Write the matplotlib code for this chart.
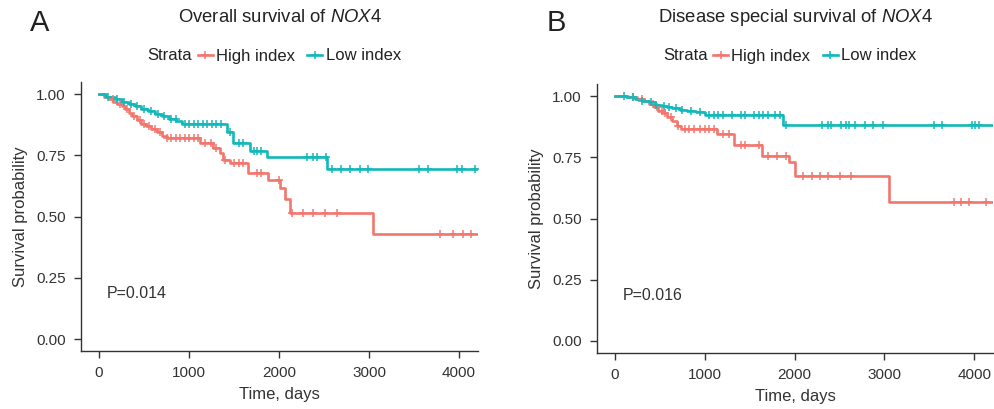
import numpy as np
import matplotlib
matplotlib.use('Agg')
import matplotlib.pyplot as plt
from matplotlib.lines import Line2D

plt.rcParams['font.family'] = ['Liberation Sans', 'DejaVu Sans']
plt.rcParams['mathtext.fontset'] = 'custom'
plt.rcParams['mathtext.rm'] = 'Liberation Sans'
plt.rcParams['mathtext.it'] = 'Liberation Sans:italic'

RED = '#F3766E'
TEAL = '#12B8BA'

# panel A: overall survival
os_high_t = [0, 60, 110, 160, 200, 250, 290, 330, 370, 420, 470, 520, 580, 640, 700, 750,
             1122, 1267, 1344, 1378, 1456, 1656, 1878, 2011, 2067, 2122, 3044]
os_high_s = [1.0, .99, .98, .97, .96, .95, .94, .925, .91, .895, .88, .87, .86, .845, .83, .82,
             .80, .78, .76, .73, .718, .68, .65, .616, .57, .514, .43]
os_high_cens = [150, 230, 310, 390, 450, 500, 560, 620, 680, 760, 800, 850, 900, 950, 1000,
                1050, 1100, 1180, 1240, 1300, 1400, 1500, 1560, 1600, 1750, 1800, 2000,
                2140, 2267, 2378, 2511, 2644, 3789, 3933, 4044, 4133]

os_low_t = [0, 80, 180, 260, 330, 400, 470, 540, 620, 700, 780, 860, 920, 1420, 1490, 1680, 1870, 2530]
os_low_s = [1.0, .99, .98, .97, .96, .95, .94, .93, .92, .91, .90, .89, .878, .845, .80, .77, .743, .694]
os_low_cens = [100, 200, 280, 350, 420, 500, 580, 650, 720, 800, 850, 950, 1000, 1050, 1100,
               1150, 1200, 1250, 1300, 1350, 1450, 1550, 1600, 1720, 1760, 1800, 2311, 2378,
               2422, 2522, 2589, 2689, 2789, 2900, 2989, 3556, 3656, 3978, 4033, 4178]

# panel B: disease special survival
dss_high_t = [0, 150, 250, 320, 380, 430, 480, 530, 580, 640, 690, 730, 1140, 1330, 1640, 1940, 2000, 3056]
dss_high_s = [1.0, .995, .99, .98, .97, .955, .94, .93, .915, .90, .88, .865, .845, .80, .757, .73, .675, .568]
dss_high_cens = [200, 300, 420, 470, 520, 560, 620, 700, 780, 830, 880, 950, 1000, 1050, 1100,
                 1200, 1270, 1400, 1450, 1600, 1700, 1800, 1900, 2089, 2190, 2278, 2378, 2511,
                 2633, 3778, 3856, 3944, 4133]

dss_low_t = [0, 120, 220, 300, 380, 450, 520, 580, 640, 720, 800, 900, 1000, 1870]
dss_low_s = [1.0, .995, .99, .98, .975, .965, .96, .955, .95, .945, .94, .935, .925, .882]
dss_low_cens = [100, 200, 300, 400, 460, 550, 600, 680, 750, 850, 950, 1050, 1100, 1150, 1200,
                1300, 1400, 1450, 1550, 1600, 1650, 1700, 1780, 1840, 1900, 2311, 2367, 2411,
                2522, 2578, 2611, 2678, 2789, 2878, 2989, 3556, 3644, 3978, 4011, 4056]

titles = [r'Overall survival of $\it{NOX4}$', r'Disease special survival of $\it{NOX4}$']
pvals = ['P=0.014', 'P=0.016']
letters = ['A', 'B']
xticks = [0, 1000, 2000, 3000, 4000]
yticks = [0, 0.25, 0.5, 0.75, 1.0]

W, H = 994, 409


def km(ax, t, s, cens, color):
    t = np.array(t, dtype=float)
    s = np.array(s)
    tt = np.append(t, 4210)
    ss = np.append(s, s[-1])
    ax.step(tt, ss, where='post', color=color, lw=1.9, zorder=3)
    c = np.array(cens, dtype=float)
    idx = np.searchsorted(t, c, side='right') - 1
    ax.plot(c, s[idx], '+', color=color, ms=6, mew=1.1, zorder=4)


fig = plt.figure(figsize=(9.94, 4.09), dpi=100)
ax_a = fig.add_axes([0.0815, 0.1418, 0.3994, 0.6577])
ax_b = fig.add_axes([0.6006, 0.137, 0.3984, 0.6577])
data = [
    (os_high_t, os_high_s, os_high_cens, os_low_t, os_low_s, os_low_cens),
    (dss_high_t, dss_high_s, dss_high_cens, dss_low_t, dss_low_s, dss_low_cens),
]

for i, ax in enumerate([ax_a, ax_b]):
    ht, hs, hc, lt, ls, lc = data[i]
    km(ax, ht, hs, hc, RED)
    km(ax, lt, ls, lc, TEAL)
    ax.set_xlim(-200, 4210)
    ax.set_ylim(-0.049, 1.05)
    ax.set_xticks(xticks)
    ax.set_yticks(yticks)
    ax.set_yticklabels(['%.2f' % v for v in yticks])
    for sp in ['top', 'right']:
        ax.spines[sp].set_visible(False)
    for sp in ['left', 'bottom']:
        ax.spines[sp].set_color('#333333')
        ax.spines[sp].set_linewidth(1.0)
    ax.tick_params(length=5, width=1.0, color='#333333', labelsize=11,
                   labelcolor='#333333', pad=6)
    ax.set_xlabel('Time, days', fontsize=12, color='#333333', labelpad=5)
    ax.set_ylabel('Survival probability', fontsize=12, color='#333333', labelpad=6)
    ax.text(90, 0.185, pvals[i], fontsize=11.5, color='#333333', va='center', ha='left')

    pos = ax.get_position()
    cx = (pos.x0 + pos.x1) / 2
    fig.text(cx, 1 - 18 / H, titles[i], fontsize=13.3, ha='center', va='center', color='#222222')
    fig.text(pos.x0 - 41 / W, 1 - 23 / H, letters[i], fontsize=21, ha='center', va='center',
             color='#222222')

    handles = [Line2D([], [], color=RED, lw=1.9, marker='+', ms=6, mew=1.1),
               Line2D([], [], color=TEAL, lw=1.9, marker='+', ms=6, mew=1.1)]
    fig.text(cx - 132 / W, 1 - 56 / H, 'Strata', fontsize=12, ha='left', va='center',
             color='#222222')
    fig.legend(handles, ['High index', 'Low index'], ncol=2, frameon=False, fontsize=12,
               loc='center left', bbox_to_anchor=(cx - 82 / W, 1 - 56 / H),
               handlelength=0.9, handletextpad=0.2, columnspacing=0.75, borderpad=0,
               borderaxespad=0, labelcolor='#222222')

fig.savefig('out.png', dpi=100)
